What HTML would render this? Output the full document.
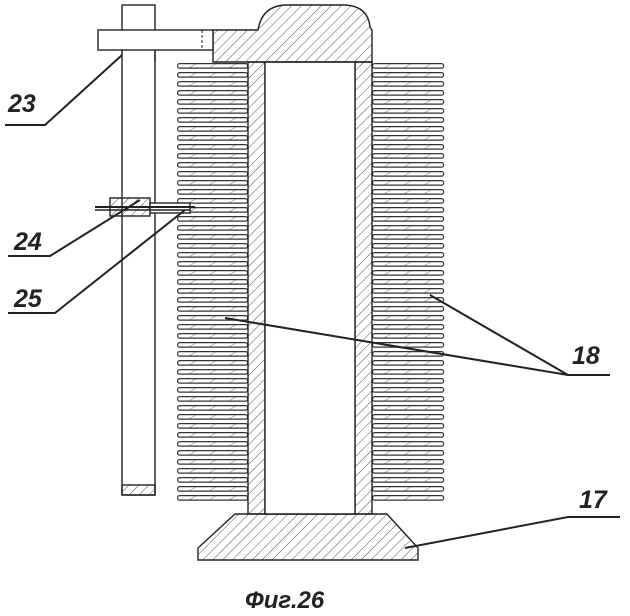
<!DOCTYPE html>
<html><head><meta charset="utf-8"><style>body{margin:0;background:#fff}svg{display:block}</style></head><body>
<svg width="630" height="616" viewBox="0 0 630 616" xmlns="http://www.w3.org/2000/svg">
<defs>
<pattern id="h" width="7" height="7" patternUnits="userSpaceOnUse" patternTransform="rotate(45)">
<line x1="0" y1="0" x2="0" y2="7" stroke="#555" stroke-width="1"/></pattern>
<pattern id="fh" width="10" height="10" patternUnits="userSpaceOnUse" patternTransform="rotate(60)">
<line x1="0" y1="0" x2="0" y2="10" stroke="#777" stroke-width="1"/></pattern>
<pattern id="finL" x="177" y="63" width="72" height="9" patternUnits="userSpaceOnUse">
<rect x="0.6" y="0.6" width="70" height="4.5" rx="2" fill="url(#fh)" stroke="#333" stroke-width="1.2"/></pattern>
<pattern id="finR" x="372" y="63" width="73" height="9" patternUnits="userSpaceOnUse">
<rect x="0.6" y="0.6" width="71" height="4.5" rx="2" fill="url(#fh)" stroke="#333" stroke-width="1.2"/></pattern>
</defs>
<rect x="177" y="63" width="72" height="441" fill="url(#finL)"/>
<rect x="372" y="63" width="73" height="441" fill="url(#finR)"/>
<g stroke="#222" stroke-width="1.4">
<rect x="248" y="62" width="17" height="452" fill="url(#h)"/>
<rect x="355" y="62" width="17" height="452" fill="url(#h)"/>
<rect x="265" y="62" width="90" height="452" fill="#fff"/>
<path d="M213 30 H258 Q262 6 285 5 H345 Q368 6 370 27 L372 30 V62 H213 Z" fill="url(#h)"/>
<path d="M235 514 H387 L418 548 V560 H198 V548 Z" fill="url(#h)"/>
<rect x="266" y="505" width="88" height="8.5" fill="#fff" stroke="none"/>
<line x1="265" y1="514" x2="355" y2="514"/>
<rect x="122" y="5" width="33" height="490" fill="#fff"/>
<rect x="122" y="485" width="33" height="10" fill="url(#h)"/>
<rect x="98" y="30" width="115" height="20" fill="#fff"/>
<line x1="202" y1="30" x2="202" y2="50" stroke-dasharray="3,2" stroke-width="1"/>
<line x1="155" y1="50" x2="155" y2="62"/>
<rect x="110" y="198" width="40" height="18" fill="url(#h)"/>
<rect x="150" y="203" width="40" height="10" fill="#fff"/>
<line x1="95" y1="207" x2="195" y2="207" stroke-width="2"/>
<line x1="95" y1="210" x2="190" y2="210" stroke-width="1.5"/>
</g>
<g stroke="#222" stroke-width="2" fill="none">
<path d="M5 125 H45 L122 55"/>
<path d="M8 256 H50 L140 200"/>
<path d="M8 313 H55 L185 210"/>
<path d="M610 375 H568 L430 295 M568 375 L225 318"/>
<path d="M620 517 H568 L405 548"/>
</g>
<g font-family="Liberation Sans, sans-serif" font-style="italic" font-weight="bold" font-size="25" fill="#222">
<text x="8" y="112">23</text>
<text x="14" y="250">24</text>
<text x="14" y="307">25</text>
<text x="572" y="364">18</text>
<text x="579" y="508">17</text>
<text x="245" y="608" font-size="24">Фиг.26</text>
</g>
</svg>
</body></html>
